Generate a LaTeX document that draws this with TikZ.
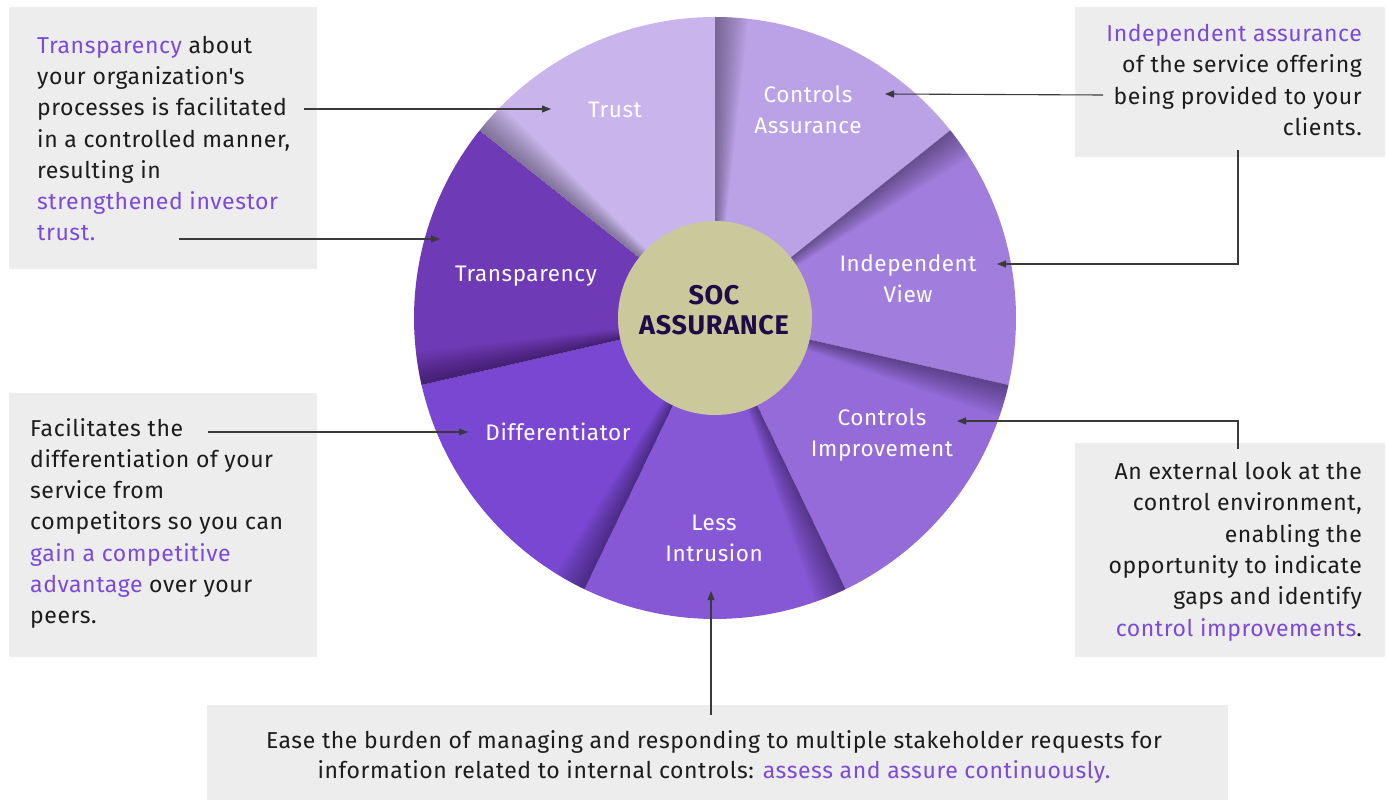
\documentclass[tikz,border=0pt]{standalone}
\usepackage{fontspec}
\setmainfont{Fira Sans}[LetterSpace=2.5]
\usetikzlibrary{arrows.meta}
\definecolor{boxgray}{HTML}{EDEDED}
\definecolor{hilite}{HTML}{7B4BD8}
\definecolor{ink}{HTML}{1C1C1C}
\definecolor{wire}{HTML}{3A3A3A}
\definecolor{hub}{HTML}{CBC99B}
\definecolor{hubtext}{HTML}{1E0B48}
\definecolor{segTrust}{HTML}{C9B5EC}
\definecolor{segAssur}{HTML}{BBA1E5}
\definecolor{segView}{HTML}{A17EDD}
\definecolor{segImpr}{HTML}{946BD9}
\definecolor{segLess}{HTML}{8758D6}
\definecolor{segDiff}{HTML}{7A47D2}
\definecolor{segTransp}{HTML}{6F3AB5}
% straight typewriter-style apostrophe
\newcommand{\plainapos}{{\addfontfeatures{Ligatures=TeXOff}'}}

\begin{document}
\begin{tikzpicture}[x=1pt,y=-1pt,
  panel/.style={fill=boxgray, draw=none, inner sep=0pt, anchor=north west},
  bodytext/.style={inner sep=0pt, text=ink, font=\fontsize{23}{31.3}\selectfont},
  seglabel/.style={inner sep=0pt, text=white, align=center, anchor=base, font=\fontsize{22.5}{31}\selectfont},
  pointer/.style={draw=wire, line width=1.1pt, -{Triangle[length=9pt,width=7pt]}},
]
\useasboundingbox (0,0) rectangle (1386,802);

% ---------- wheel of seven sectors ----------
\begin{scope}[shift={(715,318)}, yscale=-1]
  \foreach \k/\c in {0/segAssur,1/segView,2/segImpr,3/segLess,4/segDiff,5/segTransp,6/segTrust}{
    \pgfmathsetmacro\hi{90-\k*360/7}
    \pgfmathsetmacro\lo{\hi-360/7}
    \fill[\c] (0,0) -- (\hi:301) arc[start angle=\hi, end angle=\lo, radius=301] -- cycle;
  }
  % soft shadow cast by each sector onto its clockwise neighbour
  \foreach \k in {0,...,6}{
    \pgfmathsetmacro\b{90-\k*360/7}
    \foreach \i in {1,...,14}{
      \pgfmathsetmacro\e{\b-0.45*\i}
      \fill[black, opacity=0.028] (0,0) -- (\b:301) arc[start angle=\b, end angle=\e, radius=301] -- cycle;
    }
  }
\end{scope}

% hub
\node[circle, fill=hub, minimum size=194pt, inner sep=0pt] (hub) at (715,318) {};
\node[inner sep=0pt, anchor=base, align=center, text=hubtext,
      font=\fontsize{27}{29}\selectfont\bfseries] (title) at (714,334) {SOC\\ASSURANCE};

% sector labels (anchored on the baseline of their last line)
\node[seglabel] (trust)  at (615,118) {Trust};
\node[seglabel] (assur)  at (808,134) {Controls\\Assurance};
\node[seglabel] (view)   at (908,302) {Independent\\View};
\node[seglabel] (transp) at (526,282) {Transparency};
\node[seglabel] (diff)   at (558,440) {Differentiator};
\node[seglabel] (impr)   at (882,456) {Controls\\Improvement};
\node[seglabel] (less)   at (714,561) {Less\\Intrusion};

% ---------- text panels ----------
\node[panel, minimum width=308pt, minimum height=262pt] (boxTL) at (9,7) {};
\node[panel, minimum width=310pt, minimum height=150pt] (boxTR) at (1075,7) {};
\node[panel, minimum width=308pt, minimum height=264pt] (boxBL) at (9,393) {};
\node[panel, minimum width=310pt, minimum height=214pt] (boxBR) at (1075,443) {};
\node[panel, minimum width=1021pt, minimum height=95pt] (boxBot) at (207,705) {};

\node[bodytext, anchor=base west, align=left] (txtTL) at (37,241)
  {\textcolor{hilite}{Transparency} about\\your organization\plainapos s\\processes is facilitated\\in a controlled manner,\\resulting in\\\textcolor{hilite}{strengthened investor}\\\textcolor{hilite}{trust.}};
\node[bodytext, anchor=base east, align=right] (txtTR) at (1362,135.4)
  {\textcolor{hilite}{Independent assurance}\\of the service offering\\being provided to your\\clients.};
\node[bodytext, anchor=base west, align=left] (txtBL) at (30,623.8)
  {Facilitates the\\differentiation of your\\service from\\competitors so you can\\\textcolor{hilite}{gain a competitive}\\\textcolor{hilite}{advantage} over your\\peers.};
\node[bodytext, anchor=base east, align=right] (txtBR) at (1362,636)
  {An external look at the\\control environment,\\enabling the\\opportunity to indicate\\gaps and identify\\\textcolor{hilite}{control improvements}.};
\node[bodytext, anchor=base, align=center, font=\fontsize{23}{30}\selectfont] (txtBot) at (714,778)
  {Ease the burden of managing and responding to multiple stakeholder requests for\\information related to internal controls: \textcolor{hilite}{assess and assure continuously.}};

% ---------- connectors ----------
\coordinate (tlTop)    at (304,109);
\coordinate (trustTip) at (551,109);
\coordinate (tlBot)    at (179,239);
\coordinate (transpTip) at (440,239);
\coordinate (trLeft)   at (1103,95);
\coordinate (assurTip) at (885,94);
\coordinate (trDown)   at (1238,150);
\coordinate (viewTip)  at (997,264);
\coordinate (brUp)     at (1238,449);
\coordinate (imprTip)  at (957,421);
\coordinate (blRight)  at (208,432);
\coordinate (diffTip)  at (468,432);
\coordinate (botUp)    at (711,715);
\coordinate (lessTip)  at (711,591);

\draw[pointer] (tlTop) -- (trustTip);
\draw[pointer] (tlBot) -- (transpTip);
\draw[pointer] (trLeft) -- (assurTip);
\draw[pointer] (trDown) |- (viewTip);
\draw[pointer] (brUp) |- (imprTip);
\draw[pointer] (blRight) -- (diffTip);
\draw[pointer] (botUp) -- (lessTip);
\end{tikzpicture}
\end{document}
